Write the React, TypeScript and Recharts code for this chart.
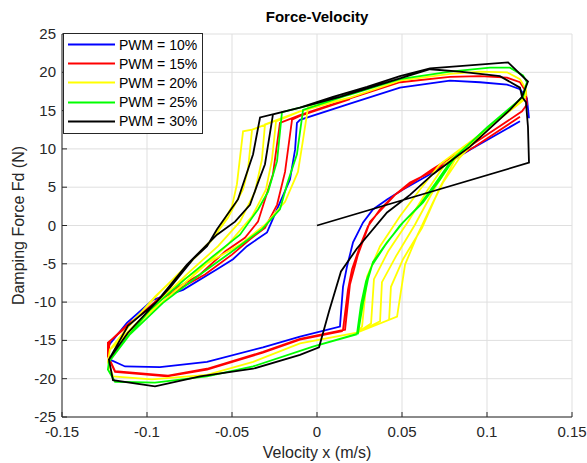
import React from 'react';
import { LineChart, Line, XAxis, YAxis, CartesianGrid, Legend } from 'recharts';

// axis ticks
const X_TICKS = [-0.15, -0.1, -0.05, 0, 0.05, 0.1, 0.15];
const Y_TICKS = [-25, -20, -15, -10, -5, 0, 5, 10, 15, 20, 25];

const SERIES_NAMES = ['PWM = 10%', 'PWM = 15%', 'PWM = 20%', 'PWM = 25%', 'PWM = 30%'];
const SERIES_COLORS = ['#0000ff', '#ff0000', '#ffff00', '#00ff00', '#000000'];

const pwm10: [number, number][] = [
  [0.1194, 13.6], [0.09, 9.9], [0.0665, 6.7], [0.0506, 4.7], [0.0412, 3.4], [0.0329, 2.1], [0.0271, 0.4],
  [0.0212, -2.2], [0.0176, -5.4], [0.0153, -8.0], [0.0135, -13.2],
  [-0.01, -14.5], [-0.0318, -15.9], [-0.0647, -17.8], [-0.0924, -18.5], [-0.1129, -18.4], [-0.1218, -17.5], [-0.123, -15.8],
  [-0.1118, -12.7], [-0.0965, -9.7], [-0.0788, -8.4], [-0.0588, -5.7], [-0.0494, -4.4], [-0.0412, -2.7], [-0.0353, -1.8],
  [-0.0294, -0.9], [-0.0218, 3.0], [-0.0159, 6.0], [-0.0129, 9.9], [-0.0118, 13.4],
  [-0.01, 13.8], [0.0194, 15.9], [0.0488, 18.0], [0.0782, 18.9], [0.0959, 18.7], [0.1118, 18.4], [0.1194, 17.8],
  [0.1235, 16.6], [0.1247, 14.0],
];

const pwm15: [number, number][] = [
  [0.1194, 14.2], [0.0929, 10.3], [0.0665, 6.9], [0.0547, 5.6], [0.0447, 3.8], [0.0371, 2.1], [0.03, -0.1],
  [0.0253, -2.7], [0.0206, -5.7], [0.0182, -8.4], [0.0153, -13.6], [0.0147, -13.8],
  [-0.01, -14.9], [-0.0318, -16.6], [-0.0647, -18.8], [-0.0882, -19.7], [-0.1188, -19.1], [-0.123, -17.1], [-0.123, -15.3],
  [-0.1118, -13.2], [-0.0924, -9.4], [-0.0688, -6.4], [-0.0541, -3.4], [-0.0424, -1.6], [-0.0347, 0.5], [-0.0306, 3.4],
  [-0.0259, 6.7], [-0.0218, 13.4],
  [-0.01, 14.4], [0.0194, 16.6], [0.0488, 18.7], [0.0782, 19.4], [0.0959, 19.5], [0.1118, 19.3], [0.1194, 18.7],
  [0.1229, 17.5], [0.1235, 15.8],
  [0.1206, 14.9], [0.0929, 10.8], [0.0676, 7.3], [0.0459, 4.0], [0.0312, 0.5], [0.0241, -3.8], [0.0194, -7.7], [0.0165, -13.6],
  [-0.01, -14.8], [-0.0318, -16.5], [-0.0647, -18.7], [-0.0876, -19.6], [-0.1188, -19.0], [-0.123, -17.0], [-0.1218, -15.1],
  [-0.1112, -12.9], [-0.0894, -9.3], [-0.0659, -6.4], [-0.05, -3.8], [-0.0394, -1.8], [-0.0306, -0.3], [-0.0235, 2.7],
  [-0.0188, 7.0], [-0.0147, 13.8],
  [-0.01, 14.3], [0.0194, 16.5],
];

const pwm20: [number, number][] = [
  // cycle 1
  [-0.1218, -16.2], [-0.11, -12.9], [-0.0924, -8.7], [-0.0747, -4.8], [-0.06, -1.4], [-0.05, 2.5], [-0.0471, 5.4],
  [-0.0435, 12.3], [-0.0382, 12.5],
  [-0.01, 14.9], [0.0194, 16.7], [0.0488, 18.9], [0.0782, 19.8], [0.0959, 20.1], [0.1118, 20.0], [0.1194, 19.1], [0.1229, 17.8],
  [0.1218, 16.4], [0.0959, 11.9], [0.0724, 8.0], [0.0606, 4.7], [0.0488, 1.2], [0.0371, -2.7], [0.0294, -6.7], [0.0265, -13.2],
  [0.0235, -14.0], [-0.01, -15.4], [-0.0376, -17.8], [-0.0647, -19.5], [-0.0971, -20.1], [-0.12, -19.7], [-0.123, -17.8], [-0.1218, -16.2],
  // cycle 2
  [-0.1112, -13.3], [-0.0953, -9.3], [-0.0776, -5.5], [-0.0629, -2.2], [-0.0524, 1.0], [-0.0435, 4.7], [-0.0406, 7.3], [-0.0382, 12.5],
  [-0.01, 14.9], [0.0194, 16.7], [0.0488, 18.9], [0.0782, 19.8], [0.0959, 20.1], [0.1118, 20.0], [0.1194, 19.1], [0.1229, 17.8],
  [0.1218, 16.4], [0.0959, 11.9], [0.0753, 8.0], [0.0653, 4.7], [0.0535, 0.5], [0.0418, -3.4], [0.0335, -7.0], [0.0318, -12.8],
  [0.0235, -14.0], [-0.01, -15.4], [-0.0376, -17.8], [-0.0647, -19.5], [-0.0971, -20.1], [-0.12, -19.7], [-0.123, -17.8], [-0.1218, -16.2],
  // cycle 3
  [-0.11, -13.6], [-0.0924, -9.7], [-0.0747, -6.0], [-0.0582, -2.7], [-0.0453, 0.5], [-0.0365, 4.4], [-0.0324, 8.6], [-0.0306, 13.2],
  [-0.01, 14.9], [0.0194, 16.7], [0.0488, 18.9], [0.0782, 19.8], [0.0959, 20.1], [0.1118, 20.0], [0.1194, 19.1], [0.1229, 17.8],
  [0.1224, 16.7], [0.0971, 12.1], [0.0782, 8.2], [0.0688, 4.7], [0.0576, 0.1], [0.0465, -4.0], [0.0382, -7.4], [0.0371, -12.5],
  [0.0235, -14.0], [-0.01, -15.4], [-0.0376, -17.8], [-0.0647, -19.5], [-0.0971, -20.1], [-0.12, -19.7], [-0.123, -17.8], [-0.1218, -16.2],
  // cycle 4
  [-0.11, -13.7], [-0.0894, -9.7], [-0.07, -6.0], [-0.0524, -2.5], [-0.0382, 1.2], [-0.03, 4.7], [-0.0265, 8.6], [-0.0241, 13.6],
  [-0.01, 14.9], [0.0194, 16.7], [0.0488, 18.9], [0.0782, 19.8], [0.0959, 20.1], [0.1118, 20.0], [0.1194, 19.1], [0.1229, 17.8],
  [0.1224, 16.7], [0.0982, 12.3], [0.0812, 8.6], [0.0724, 5.0], [0.0618, -0.3], [0.0506, -4.4], [0.0435, -8.0], [0.0424, -12.3],
  [0.0235, -14.0], [-0.01, -15.4], [-0.0376, -17.8], [-0.0647, -19.5], [-0.0971, -20.1], [-0.12, -19.7], [-0.123, -17.8], [-0.1218, -16.2],
  // cycle 5
  [-0.1088, -13.8], [-0.0865, -8.4], [-0.0659, -5.1], [-0.0453, -2.5], [-0.0306, 0.1], [-0.0188, 3.1], [-0.0112, 7.0],
  [-0.0082, 11.2], [-0.0053, 15.4],
  [0.0194, 16.7], [0.0488, 18.9], [0.0782, 19.8], [0.0959, 20.1], [0.1118, 20.0], [0.1194, 19.1], [0.1229, 17.8],
  [0.1229, 17.0], [0.0994, 12.5], [0.0841, 8.9], [0.0741, 5.6], [0.0682, 3.0], [0.0588, -1.4], [0.0518, -5.1], [0.0471, -11.9],
  [0.0235, -14.0], [-0.01, -15.4], [-0.0376, -17.8], [-0.0647, -19.5], [-0.0971, -20.1], [-0.12, -19.7], [-0.123, -17.8], [-0.1218, -16.2],
];

const pwm25: [number, number][] = [
  [-0.1224, -17.8], [-0.1129, -14.9], [-0.0982, -11.0], [-0.0776, -7.0], [-0.06, -3.8], [-0.0453, -1.2], [-0.0347, 2.1],
  [-0.0288, 4.4], [-0.0235, 8.4], [-0.0206, 14.8],
  [-0.01, 15.4], [0.0194, 17.1], [0.0488, 19.1], [0.0782, 20.1], [0.1018, 20.6], [0.1135, 20.6], [0.1212, 19.6], [0.1235, 18.7],
  [0.1212, 16.8], [0.1, 12.8], [0.0812, 8.9], [0.0724, 6.0], [0.0624, 3.0], [0.0506, 0.4], [0.0412, -2.2], [0.0329, -4.8],
  [0.03, -7.0], [0.0271, -10.1], [0.0241, -14.1],
  [-0.0024, -15.8], [-0.0376, -18.4], [-0.0647, -19.7], [-0.0953, -20.5], [-0.1188, -20.4], [-0.123, -18.8], [-0.1224, -17.8],
  [-0.11, -14.2], [-0.0906, -10.1], [-0.0688, -6.4], [-0.0482, -3.1], [-0.0324, -0.5], [-0.0218, 2.1], [-0.0176, 5.4],
  [-0.0118, 9.3], [-0.0082, 15.1],
  [0.0194, 17.1], [0.0488, 19.1], [0.0782, 20.1], [0.1018, 20.6], [0.1135, 20.6], [0.1212, 19.6], [0.1235, 18.7],
  [0.1206, 16.7], [0.0988, 12.5], [0.0794, 8.6], [0.07, 5.6], [0.0606, 2.7], [0.0488, 0.0], [0.04, -2.6], [0.0324, -5.2],
  [0.0288, -7.3], [0.0259, -10.3], [0.0235, -14.2],
  [-0.0024, -15.8], [-0.0376, -18.4], [-0.0647, -19.7], [-0.0953, -20.5], [-0.1188, -20.4], [-0.123, -18.8],
];

const pwm30: [number, number][] = [
  [0, 0], [0.1247, 8.2], [0.1241, 12.9], [0.1229, 16.1], [0.1206, 16.8],
  [0.1135, 15.1], [0.09, 10.3], [0.0682, 6.7], [0.0547, 4.0], [0.0412, 1.7], [0.0235, -3.0], [0.0141, -6.0],
  [0.0071, -11.2], [0.0012, -15.9],
  [-0.01, -16.9], [-0.0376, -18.7], [-0.0688, -19.7], [-0.0953, -21.0], [-0.12, -20.2], [-0.1224, -17.5],
  [-0.1112, -13.1], [-0.0941, -9.9], [-0.0765, -5.1], [-0.0588, -1.2], [-0.0482, 0.5], [-0.0394, 2.7], [-0.0347, 5.6],
  [-0.0306, 8.0], [-0.0259, 14.5],
  [-0.01, 15.4], [0.0135, 16.8], [0.0488, 19.2], [0.0665, 20.4], [0.0841, 20.1], [0.1076, 19.5], [0.1194, 18.0], [0.1206, 16.8],
  [0.1135, 15.1], [0.09, 10.3], [0.0682, 6.7], [0.0547, 4.0], [0.0412, 1.7], [0.0235, -3.0], [0.0141, -6.0],
  [0.0071, -11.2], [0.0012, -15.9],
  [-0.01, -16.9], [-0.0376, -18.7], [-0.0688, -19.7], [-0.0953, -21.0], [-0.12, -20.2], [-0.1224, -17.5],
  [-0.1112, -14.0], [-0.0941, -9.9], [-0.0865, -8.1], [-0.0729, -4.4], [-0.0647, -2.7], [-0.0588, -0.5], [-0.0465, 3.4],
  [-0.0376, 9.3], [-0.0335, 14.1],
  [-0.01, 15.4], [0.0094, 16.8], [0.0294, 18.1], [0.0488, 19.5], [0.0665, 20.5], [0.1124, 21.3], [0.1241, 18.8], [0.1206, 16.8],
];

const SERIES_DATA = [pwm10, pwm15, pwm20, pwm25, pwm30];

const FONT = '"Liberation Sans", Arial, Helvetica, sans-serif';
const axisColor = '#262626';
const gridColor = '#dfdfdf';

const fmt = (v: number) => String(Number(v.toFixed(2)));

const XTick = ({ x, y, payload }: any) => (
  <g>
    <line x1={x} x2={x} y1={y} y2={y - 5} stroke={axisColor} />
    <text x={x} y={y + 20} textAnchor="middle" fontSize={15} fontFamily={FONT} fill={axisColor}>
      {fmt(payload.value)}
    </text>
  </g>
);

const YTick = ({ x, y, payload }: any) => (
  <g>
    <line x1={x} x2={x + 5} y1={y} y2={y} stroke={axisColor} />
    <text x={x - 6} y={y + 5} textAnchor="end" fontSize={15} fontFamily={FONT} fill={axisColor}>
      {fmt(payload.value)}
    </text>
  </g>
);

const LegendBox = ({ payload }: any) => (
  <div
    style={{
      border: `1px solid ${axisColor}`,
      background: '#fff',
      width: 138,
      padding: '1px 0 2px 0',
      fontFamily: FONT,
      fontSize: 14,
      color: '#000',
    }}
  >
    {(payload || []).map((entry: any) => (
      <div key={entry.value} style={{ display: 'flex', alignItems: 'center', height: 19.2 }}>
        <svg width={55} height={19} style={{ flex: 'none' }}>
          <line x1={4} x2={51} y1={9.5} y2={9.5} stroke={entry.color} strokeWidth={2} />
        </svg>
        <span>{entry.value}</span>
      </div>
    ))}
  </div>
);

export default function App() {
  return (
    <div style={{ position: 'absolute', left: 0, top: 0, width: 587, height: 463, background: '#fff' }}>
      <div
        style={{
          position: 'absolute', left: 62, width: 510, top: 8, textAlign: 'center',
          fontFamily: FONT, fontWeight: 'bold', fontSize: 15, color: '#000', zIndex: 2,
        }}
      >
        Force-Velocity
      </div>
      <LineChart width={587} height={463} margin={{ top: 34, right: 15, bottom: 16, left: 8 }}>
        <CartesianGrid stroke={gridColor} />
        <XAxis
          type="number"
          dataKey="x"
          domain={[-0.15, 0.15]}
          ticks={X_TICKS}
          height={30}
          tickSize={0}
          tickMargin={0}
          tickLine={false}
          tick={<XTick />}
          stroke={axisColor}
          allowDataOverflow
          label={{ value: 'Velocity x (m/s)', position: 'bottom', offset: 0, fontSize: 16, fontFamily: FONT, fill: axisColor }}
        />
        <YAxis
          type="number"
          dataKey="y"
          domain={[-25, 25]}
          ticks={Y_TICKS}
          width={54}
          tickSize={0}
          tickMargin={0}
          tickLine={false}
          tick={<YTick />}
          stroke={axisColor}
          allowDataOverflow
          label={{
            value: 'Damping Force Fd (N)', angle: -90, position: 'insideLeft', offset: 10,
            fontSize: 16, fontFamily: FONT, fill: axisColor, style: { textAnchor: 'middle' },
          }}
        />
        <Legend
          layout="vertical"
          align="center"
          verticalAlign="middle"
          content={<LegendBox />}
          wrapperStyle={{ left: 63, top: 33, width: 140 }}
        />
        {SERIES_DATA.map((pts, i) => (
          <Line
            key={SERIES_NAMES[i]}
            name={SERIES_NAMES[i]}
            data={pts.map(([x, y]) => ({ x, y }))}
            dataKey="y"
            type="linear"
            stroke={SERIES_COLORS[i]}
            strokeWidth={1.8}
            dot={false}
            activeDot={false}
            isAnimationActive={false}
          />
        ))}
      </LineChart>
    </div>
  );
}
